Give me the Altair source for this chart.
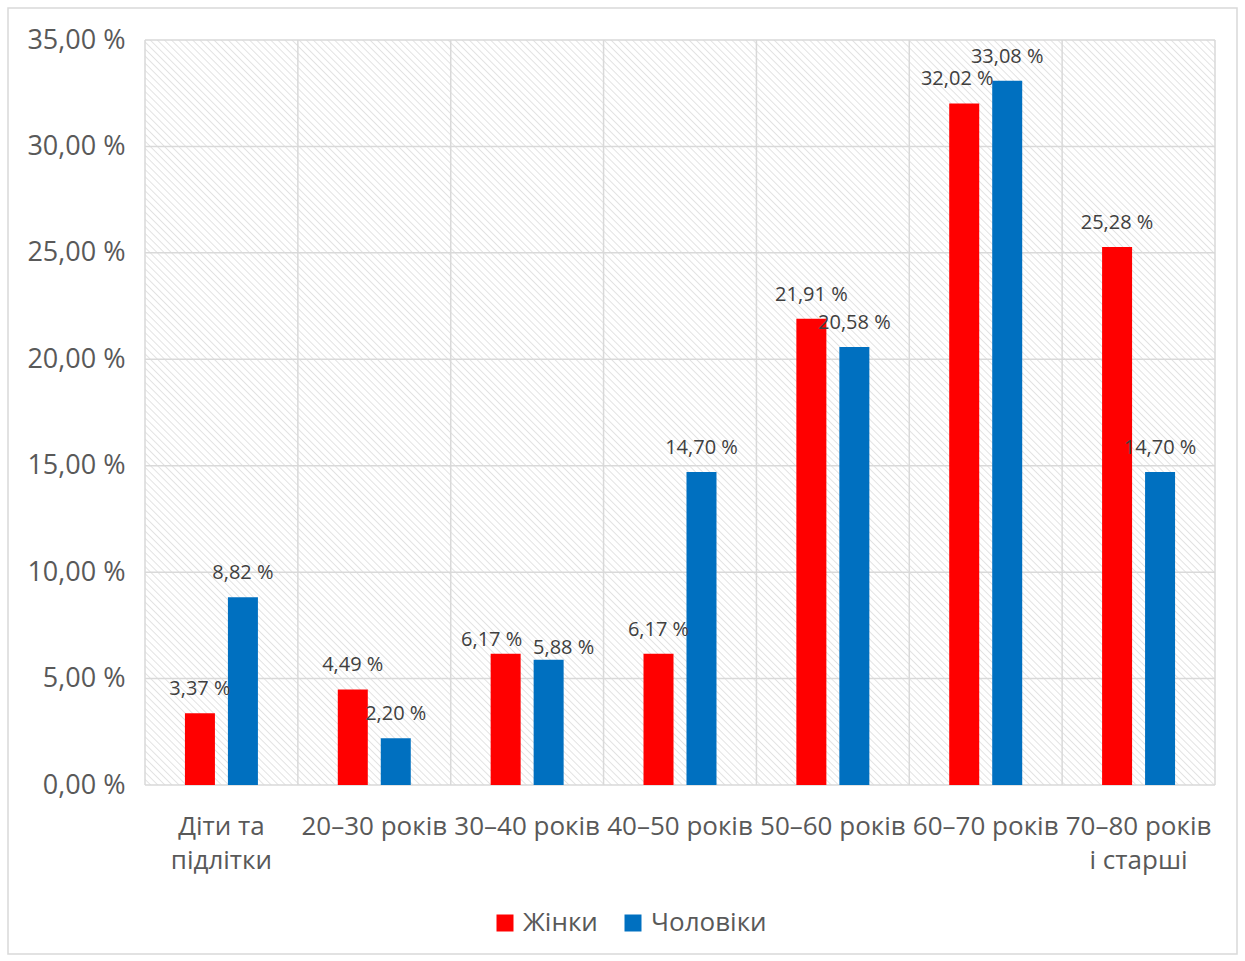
import altair as alt
import pandas as pd

categories = ['Діти та підлітки', '20–30 років', '30–40 років', '40–50 років',
              '50–60 років', '60–70 років', '70–80 років і старші']
series = ['Жінки', 'Чоловіки']
women = [3.37, 4.49, 6.17, 6.17, 21.91, 32.02, 25.28]
men = [8.82, 2.20, 5.88, 14.70, 20.58, 33.08, 14.70]
y_ticks = [0, 5, 10, 15, 20, 25, 30, 35]

# label nudges (style only): (category, series) -> (dx, dy)
nudges = {('30–40 років', 'Жінки'): (-14, 10), ('30–40 років', 'Чоловіки'): (15, 12),
          ('60–70 років', 'Жінки'): (-7, 0)}

W, H = 1070, 745
GRID = '#d9d9d9'
FONT = 'Open Sans'

rows = []
for c, w, m in zip(categories, women, men):
    rows.append({'cat': c, 'sex': series[0], 'value': w})
    rows.append({'cat': c, 'sex': series[1], 'value': m})
df = pd.DataFrame(rows)
df['label'] = df['value'].map(lambda v: f"{v:.2f}".replace('.', ',') + ' %')
df['key'] = df['cat'] + '|' + df['sex']

# hatched background via a striped linear gradient (45°, "\" direction)
period = 5.0
L = (W + H) / 2 ** 0.5
n = int(L / period)
stops = []
for i in range(n):
    stops.append({'offset': i / n, 'color': '#ffffff'})
    stops.append({'offset': (i + 0.62) / n, 'color': '#ffffff'})
    stops.append({'offset': (i + 0.81) / n, 'color': '#e2e2e2'})
stops.append({'offset': 1.0, 'color': '#ffffff'})
k = (1 + H / W) / (1 + (H / W) ** 2)
grad = {'gradient': 'linear', 'stops': stops,
        'x1': 0, 'y1': 1, 'x2': k, 'y2': 1 - k * H / W}

xscale = alt.Scale(domain=categories, paddingInner=0, paddingOuter=0)
yscale = alt.Scale(domain=[0, 35], nice=False)
oscale = alt.Scale(domain=series, paddingInner=0.302, paddingOuter=0.929)

label_expr_x = ("datum.label == 'Діти та підлітки' ? ['Діти та', 'підлітки'] : "
                "datum.label == '70–80 років і старші' ? ['70–80 років', 'і старші'] : datum.label")
xaxis = alt.Axis(labelAngle=0, labelFontSize=26, labelColor='#595959', labelFont=FONT,
                 labelPadding=28, ticks=False, domain=False, grid=False, title=None,
                 labelExpr=label_expr_x, labelLineHeight=34, labelLimit=300)
yaxis = alt.Axis(values=y_ticks, labelFontSize=27, labelColor='#595959', labelFont=FONT,
                 labelPadding=20, ticks=False, domain=False, grid=False, title=None,
                 labelExpr="replace(format(datum.value, '.2f'), '.', ',') + ' %'")

X = alt.X('cat:N', sort=categories, scale=xscale, axis=xaxis, title=None)
XO = alt.XOffset('sex:N', sort=series, scale=oscale)
Y = alt.Y('value:Q', scale=yscale, axis=yaxis, title=None)

hatch = alt.Chart(alt.Data(values=[{'a': 1}])).mark_rect(fill=grad).encode(
    x=alt.value(0), x2=alt.value(W), y=alt.value(0), y2=alt.value(H)
)

vrules = alt.Chart(pd.DataFrame({'cat': categories})).mark_rule(color=GRID, strokeWidth=1.5).encode(
    x=alt.X('cat:N', bandPosition=0, scale=xscale, sort=categories, axis=xaxis, title=None),
    y=alt.value(0), y2=alt.value(H)
)
rrule = alt.Chart(alt.Data(values=[{'a': 1}])).mark_rule(color=GRID, strokeWidth=1.5).encode(
    x=alt.value(W), y=alt.value(0), y2=alt.value(H)
)

hrules = alt.Chart(pd.DataFrame({'value': y_ticks})).mark_rule(color=GRID, strokeWidth=1.5).encode(
    y=Y, x=alt.value(0), x2=alt.value(W)
)

bars = alt.Chart(df).mark_bar(size=30).encode(
    x=X, xOffset=XO, y=Y,
    color=alt.Color('sex:N', sort=series,
                    scale=alt.Scale(domain=series, range=['#ff0000', '#0070c0']),
                    legend=alt.Legend(title=None, orient='none', direction='horizontal',
                                      legendX=347, legendY=870, symbolType='square',
                                      symbolSize=289, symbolStrokeWidth=0, labelFontSize=26,
                                      labelFont=FONT, labelColor='#595959', labelOffset=5,
                                      columnPadding=22, padding=0))
)

nudged_keys = [c + '|' + s for (c, s) in nudges]
text_layers = [
    alt.Chart(df).transform_filter(
        '!(' + ' || '.join(f"datum.key == '{k_}'" for k_ in nudged_keys) + ')'
    ).mark_text(fontSize=20, font=FONT, color='#404040', dy=-24, baseline='middle').encode(
        x=X, xOffset=XO, y=Y, text='label:N')
]
for (c, s), (ddx, ddy) in nudges.items():
    key = c + '|' + s
    text_layers.append(
        alt.Chart(df).transform_filter(f"datum.key == '{key}'").mark_text(
            fontSize=20, font=FONT, color='#404040', dx=ddx, dy=-24 + ddy, baseline='middle'
        ).encode(x=X, xOffset=XO, y=Y, text='label:N')
    )

border = alt.Chart(alt.Data(values=[{'a': 1}])).mark_rect(
    fillOpacity=0, stroke=GRID, strokeWidth=1.5).encode(
    x=alt.value(-137), x2=alt.value(1092), y=alt.value(-32), y2=alt.value(914)
)

chart = alt.layer(hatch, vrules, rrule, hrules, bars, *text_layers, border).properties(
    width=W, height=H,
    autosize=alt.AutoSizeParams(type='none'),
    padding={'left': 145, 'top': 40, 'right': 30, 'bottom': 176},
    background='white'
).configure_view(stroke=None)

chart.save('out.html', embed_options={'renderer': 'svg', 'actions': False})
